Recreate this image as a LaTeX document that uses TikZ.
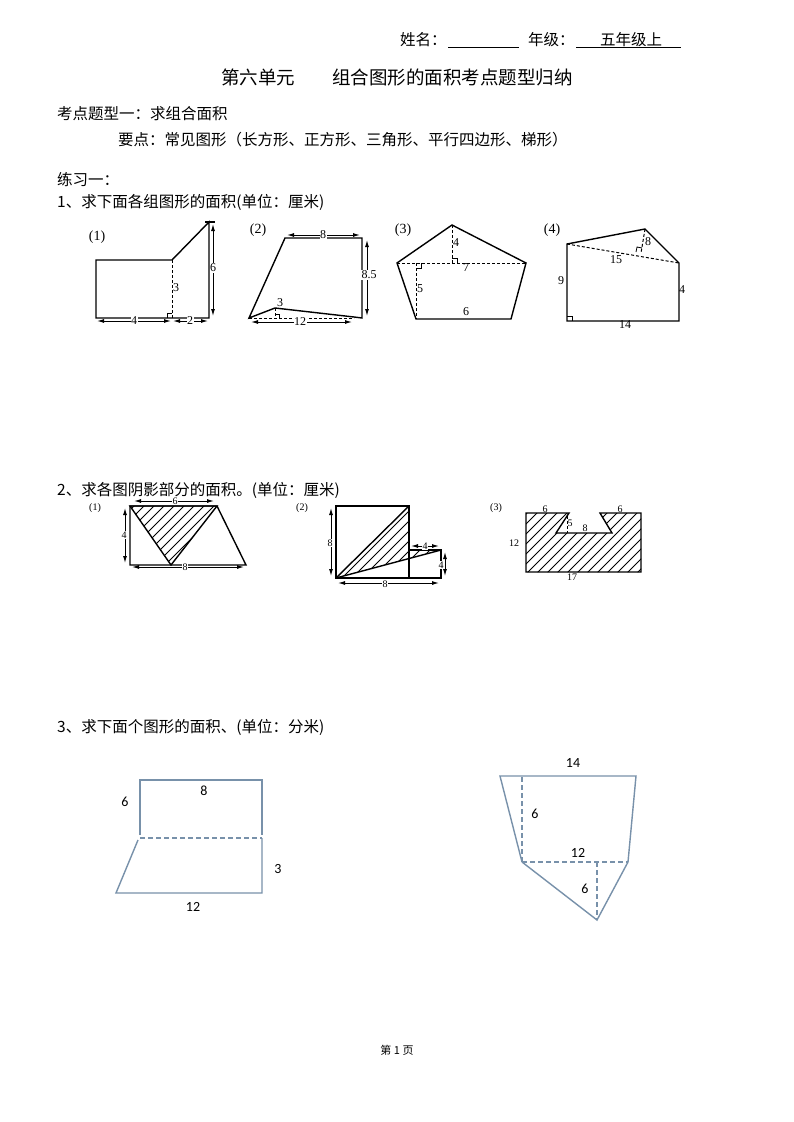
\documentclass[tikz,border=0pt]{standalone}
\usepackage{fontspec}
\setmainfont{Liberation Serif}
\newfontfamily\cjk{Noto Sans CJK SC}
\newfontfamily\carfont{Carlito}
\usetikzlibrary{arrows.meta}
\newcommand{\hatchit}[1]{\begin{scope}\clip #1;\foreach \c in {400,410,...,1400}{\draw[line width=0.9pt] (\c-300,300) -- (\c-700,700);}\end{scope}}
\begin{document}
\begin{tikzpicture}[x=1pt,y=-1pt,
  txt/.style={anchor=west,inner sep=0pt,font=\cjk\fontsize{15.5}{16}\selectfont},
  lab/.style={inner sep=0.5pt,font=\fontsize{12}{12}\selectfont},
  fig/.style={line width=1.4pt},
  dsh/.style={line width=1pt,dashed,dash pattern=on 3pt off 2pt},
  dim/.style={line width=1pt,{Latex[length=7pt,width=4pt]}-{Latex[length=7pt,width=4pt]}},
  blu/.style={draw={rgb,255:red,120;green,145;blue,170},line width=1.4pt},
  bld/.style={blu,dashed,dash pattern=on 5pt off 3pt},
  cl/.style={inner sep=0pt,font=\carfont\fontsize{14}{14}\selectfont}]
\useasboundingbox[fill=white] (0,0) rectangle (793,1122);
% header
\node[txt] (n1) at (400,40) {姓名：};
\draw (448,47) -- (519,47);
\node[txt] (n2) at (528,40) {年级：};
\node[txt] (n3) at (600,40) {五年级上};
\draw (576,47) -- (681,47);
\node[inner sep=0pt,font=\cjk\fontsize{18.5}{19}\selectfont] (t) at (397,77) {第六单元\hspace{2em}组合图形的面积考点题型归纳};
\node[txt] (a1) at (57,114) {考点题型一：求组合面积};
\node[txt] (a2) at (118,140) {要点：常见图形（长方形、正方形、三角形、平行四边形、梯形）};
\node[txt] (a3) at (57,180) {练习一：};
\node[txt] (a4) at (57,202) {1、求下面各组图形的面积(单位：厘米)};
% fig 1-1
\node[lab,font=\fontsize{14}{14}\selectfont] (l11) at (97,237) {(1)};
\draw[fig] (172,260) -- (96,260) -- (96,318) -- (209,318) -- (209,222) -- (172,260);
\draw[fig] (205,222) -- (215,222);
\draw[dsh] (172,260) -- (172,318);
\draw[line width=0.8pt] (172,313) -- (167,313) -- (167,318);
\draw[dim] (213,224) -- (213,316);
\node[lab,fill=white] (d6) at (213,268) {6};
\node[lab] (d3) at (176,288) {3};
\draw[dim] (97,321) -- (171,321);
\draw[dim] (173,321) -- (208,321);
\node[lab,fill=white] (d4) at (134,321) {4};
\node[lab,fill=white] (d2) at (190,321) {2};
% fig 1-2
\node[lab,font=\fontsize{14}{14}\selectfont] (l12) at (258,230) {(2)};
\draw[fig] (275,308) -- (249,318) -- (285,238) -- (362,238) -- (362,318) -- (354,317) -- (275,308);
\draw[dsh] (249,318) -- (354,318);
\draw[dsh] (275,308) -- (275,318);
\draw[line width=0.8pt] (275,314) -- (279,314) -- (279,318);
\draw[dim] (287,235) -- (360,235);
\node[lab,fill=white] (e8) at (323,235) {8};
\draw[dim] (367,240) -- (367,316);
\node[lab,fill=white] (e85) at (369,275) {8.5};
\node[lab] (e3) at (280,303) {3};
\draw[dim] (251,322) -- (352,322);
\node[lab,fill=white] (e12) at (300,322) {12};
% fig 1-3
\node[lab,font=\fontsize{14}{14}\selectfont] (l13) at (403,230) {(3)};
\draw[fig] (452,225) -- (526,263) -- (511,319) -- (416,319) -- (397,263) -- cycle;
\draw[dsh] (397,263) -- (526,263);
\draw[dsh] (452,225) -- (452,263);
\draw[dsh] (416,263) -- (416,319);
\draw[line width=0.8pt] (452,258) -- (457,258) -- (457,263);
\draw[line width=0.8pt] (416,268) -- (421,268) -- (421,263);
\node[lab] (f4) at (456,243) {4};
\node[lab] (f7) at (466,268) {7};
\node[lab] (f5) at (420,289) {5};
\node[lab] (f6) at (466,312) {6};
% fig 1-4
\node[lab,font=\fontsize{14}{14}\selectfont] (l14) at (552,230) {(4)};
\draw[fig] (567,244) -- (645,229) -- (679,263) -- (679,321) -- (567,321) -- cycle;
\draw[dsh] (567,244) -- (679,263);
\draw[dsh] (645,229) -- (641,253);
\draw[line width=0.8pt] (636,252) -- (637,247) -- (642,248);
\draw[line width=0.8pt] (567,316) -- (572,316) -- (572,321);
\node[lab] (g8) at (648,242) {8};
\node[lab] (g15) at (616,260) {15};
\node[lab] (g9) at (561,281) {9};
\node[lab] (g4) at (682,290) {4};
\node[lab] (g14) at (625,325) {14};
% section 2
\node[txt] (b1) at (57,490) {2、求各图阴影部分的面积。(单位：厘米)};
% fig 2-1
\node[lab,font=\fontsize{10}{10}\selectfont] (m1) at (95,508) {(1)};
\hatchit{(130,506) -- (217,506) -- (171,565) -- cycle}
\draw[fig] (130,506) -- (217,506) -- (171,565) -- cycle;
\draw[fig] (130,506) -- (217,506) -- (246,565) -- (130,565) -- cycle;
\draw[dim] (134,501) -- (214,501);
\node[lab,fill=white,font=\fontsize{10}{10}\selectfont] (h6) at (175,501) {6};
\draw[dim] (125,508) -- (125,563);
\node[lab,fill=white,font=\fontsize{10}{10}\selectfont] (h4) at (124,535) {4};
\draw[dim] (132,567) -- (244,567);
\node[lab,fill=white,font=\fontsize{10}{10}\selectfont] (h8) at (185,567) {8};
% fig 2-2
\node[lab,font=\fontsize{10}{10}\selectfont] (m2) at (302,508) {(2)};
\hatchit{(336,578) -- (409,506) -- (409,550) -- (441,550) -- cycle}
\draw[fig] (336,506) rectangle (409,578);
\draw[fig] (409,550) -- (441,550) -- (441,578) -- (336,578);
\draw[fig] (336,578) -- (441,550);
\draw[fig] (336,578) -- (409,506);
\draw[dim] (331,508) -- (331,576);
\node[lab,fill=white,font=\fontsize{10}{10}\selectfont] (i8) at (330,543) {8};
\draw[dim] (338,583) -- (439,583);
\node[lab,fill=white,font=\fontsize{10}{10}\selectfont] (i8b) at (385,584) {8};
\draw[dim] (411,546) -- (439,546);
\node[lab,fill=white,font=\fontsize{10}{10}\selectfont] (i4) at (425,546) {4};
\draw[dim] (445,552) -- (445,576);
\node[lab,fill=white,font=\fontsize{10}{10}\selectfont] (i4b) at (441,565) {4};
% fig 2-3
\node[lab,font=\fontsize{10}{10}\selectfont] (m3) at (496,508) {(3)};
\hatchit{(526,513) -- (569,513) -- (556,533) -- (612,533) -- (600,513) -- (641,513) -- (641,572) -- (526,572) -- cycle}
\draw[fig] (526,513) -- (569,513) -- (556,533) -- (612,533) -- (600,513) -- (641,513) -- (641,572) -- (526,572) -- cycle;
\draw[dsh,line width=0.6pt] (567,516) -- (567,533);
\node[lab,fill=white,inner sep=0pt,font=\fontsize{10}{10}\selectfont] (j5) at (570,523) {5};
\node[lab,fill=white,inner sep=0pt,font=\fontsize{10}{10}\selectfont] (j8) at (585,528) {8};
\node[lab,fill=white,inner sep=0pt,font=\fontsize{10}{10}\selectfont] (j6a) at (545,509) {6};
\node[lab,fill=white,inner sep=0pt,font=\fontsize{10}{10}\selectfont] (j6b) at (620,509) {6};
\node[lab,font=\fontsize{10}{10}\selectfont] (j12) at (514,543) {12};
\node[lab,fill=white,inner sep=0pt,font=\fontsize{10}{10}\selectfont] (j17) at (572,577) {17};
% section 3
\node[txt] (c1) at (57,727) {3、求下面个图形的面积、(单位：分米)};
\draw[blu] (140,835) -- (140,780) -- (262,780) -- (262,835);
\draw[bld] (140,838) -- (262,838);
\draw[blu] (138,840) -- (116,893) -- (262,893) -- (262,838);
\node[cl] (k6) at (125,802) {6};
\node[cl] (k8) at (204,791) {8};
\node[cl] (k3) at (278,869) {3};
\node[cl] (k12) at (193,907) {12};
\draw[blu] (522,862) -- (500,776) -- (636,776) -- (628,862);
\draw[bld] (522,777) -- (522,862);
\draw[bld] (522,862) -- (628,862);
\draw[blu] (522,862) -- (597,920) -- (628,862);
\draw[bld] (597,862) -- (597,920);
\node[cl] (p14) at (573,763) {14};
\node[cl] (p6) at (535,814) {6};
\node[cl] (p12) at (578,853) {12};
\node[cl] (p6b) at (585,889) {6};
\node[inner sep=0pt,font=\cjk\fontsize{11}{11}\selectfont] (ft) at (397,1050) {第 1 页};
\end{tikzpicture}
\end{document}
